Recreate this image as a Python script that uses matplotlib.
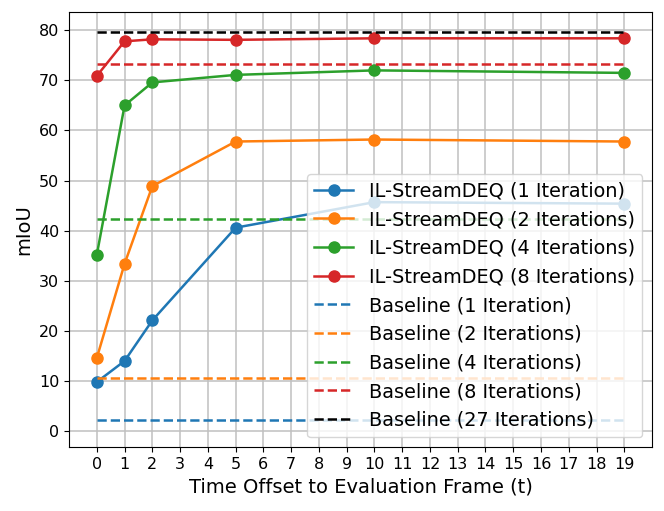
import matplotlib
matplotlib.use("Agg")
import matplotlib.pyplot as plt

t = [0, 1, 2, 5, 10, 19]
it1 = [9.8, 14.0, 22.1, 40.6, 45.7, 45.4]
it2 = [14.6, 33.4, 48.9, 57.8, 58.2, 57.8]
it4 = [35.2, 65.0, 69.6, 71.1, 72.0, 71.5]
it8 = [70.9, 77.8, 78.2, 78.1, 78.4, 78.4]

base_iters = ["1 Iteration", "2 Iterations", "4 Iterations", "8 Iterations", "27 Iterations"]
base_vals = [2.2, 10.6, 42.3, 73.2, 79.7]
base_colors = ["tab:blue", "tab:orange", "tab:green", "tab:red", "black"]

fig, ax = plt.subplots(figsize=(6.64, 5.11), dpi=100)
fig.subplots_adjust(left=0.104, right=0.982, top=0.976, bottom=0.125)

for vals, name in zip([it1, it2, it4, it8], base_iters[:4]):
    ax.plot(t, vals, marker="o", markersize=8, linewidth=1.8, label=f"IL-StreamDEQ ({name})")

for v, name, c in zip(base_vals, base_iters, base_colors):
    ax.plot([t[0], t[-1]], [v, v], linestyle="--", color=c, linewidth=1.8, label=f"Baseline ({name})")

ax.set_xticks(range(0, 20))
ax.set_yticks(range(0, 81, 10))
ax.set_xlim(-1, 20)
ax.set_ylim(-3.2, 83.6)
ax.tick_params(labelsize=11.5)
ax.grid(True, linewidth=1.1, color="#c0c0c0")
ax.set_xlabel("Time Offset to Evaluation Frame (t)", fontsize=14)
ax.set_ylabel("mIoU", fontsize=14)
ax.legend(fontsize=13.9, loc="lower right", labelspacing=0.5, handletextpad=0.8)

fig.savefig("out.png", dpi=100)
